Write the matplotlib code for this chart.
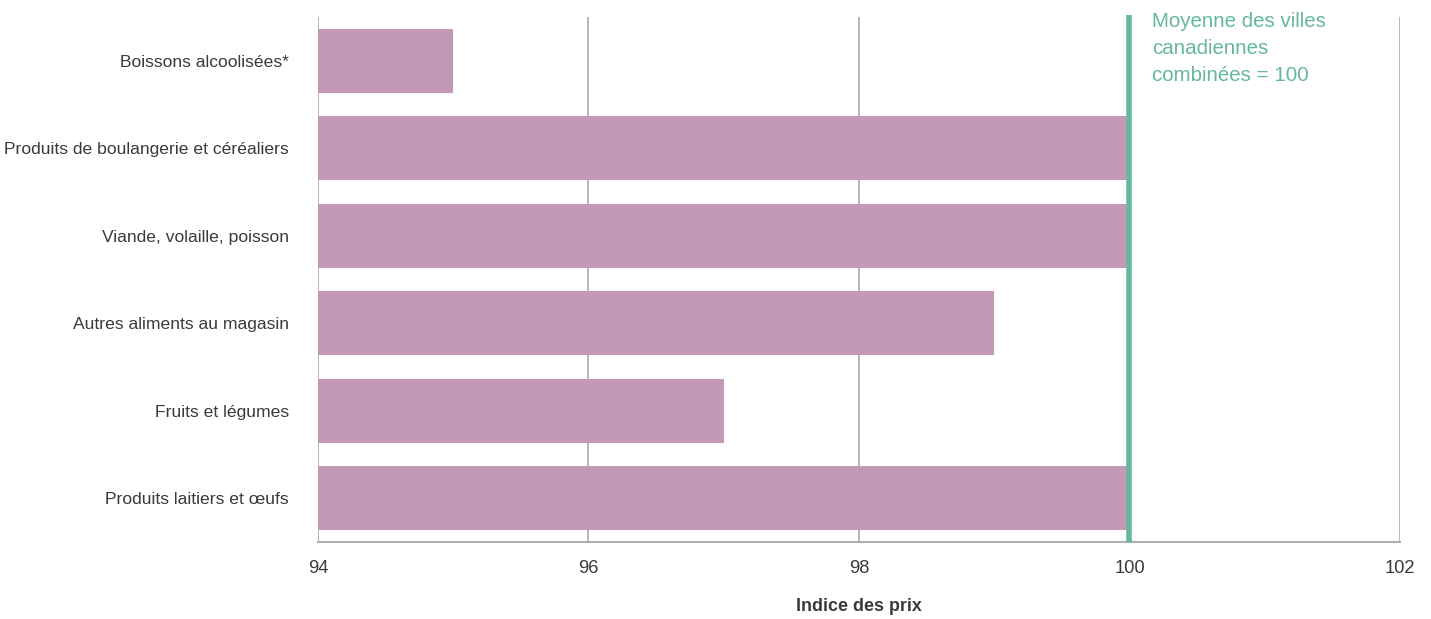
import matplotlib.pyplot as plt
import matplotlib.transforms as mtransforms
from matplotlib import font_manager

## Food price index by category, Canadian cities combined = 100
categories = ["Boissons alcoolisées*",
              "Produits de boulangerie et céréaliers",
              "Viande, volaille, poisson",
              "Autres aliments au magasin",
              "Fruits et légumes",
              "Produits laitiers et œufs"]
index_values = [95.0, 100.0, 100.0, 99.0, 97.0, 100.0]
x_ticks = [94, 96, 98, 100, 102]
reference_value = 100
reference_label = "Moyenne des villes\ncanadiennes\ncombinées = 100"

## Pick a narrow font if there is one
names = {f.name for f in font_manager.fontManager.ttflist}
narrow = "Liberation Sans Narrow" in names
family = "Liberation Sans Narrow" if narrow else "Liberation Sans"
plt.rcParams['font.family'] = [family, 'DejaVu Sans']
size = 15 if narrow else 12.6

bar_colour = "#c498b7"
line_colour = "#66b89c"
text_colour = "#3a3a3a"
grid_colour = "#b0b0b0"

fig = plt.figure(figsize=(14.31, 6.19), dpi=100)
ax = fig.add_axes([0.2222, 0.1244, 0.7561, 0.8481])

y_pos = list(range(len(categories)))
ax.barh(y_pos, [v - x_ticks[0] for v in index_values], left=x_ticks[0],
        height=0.73, color=bar_colour, zorder=2)

ax.set_xlim(x_ticks[0], x_ticks[-1])
ax.set_ylim(len(categories) - 0.5, -0.5)
ax.set_yticks(y_pos)
ax.set_yticklabels(categories, fontsize=size, color=text_colour)
ax.set_xticks(x_ticks)
ax.set_xticklabels([str(t) for t in x_ticks], fontsize=size * 1.05,
                   color=text_colour)
ax.tick_params(axis='both', length=0)
ax.tick_params(axis='y', pad=21)
ax.tick_params(axis='x', pad=13)

## Vertical grid lines stand in for the left / right frame
ax.grid(axis='x', color=grid_colour, linewidth=1.3, zorder=0)
for side in ['top', 'right', 'left']:
    ax.spines[side].set_visible(False)
ax.spines['bottom'].set_color(grid_colour)
ax.spines['bottom'].set_linewidth(1.5)
ax.set_axisbelow(True)

## Reference line at 100
ax.axvline(reference_value, ymin=0, ymax=1.003, color=line_colour,
           linewidth=4, zorder=3, clip_on=False, solid_capstyle='butt')
trans = mtransforms.blended_transform_factory(ax.transData, ax.transAxes)
ax.text(reference_value + 0.17, 1.01, reference_label, transform=trans,
        ha='left', va='top', fontsize=size * 1.17, color=line_colour,
        linespacing=1.55)

ax.set_xlabel("Indice des prix", fontsize=size * 1.02, fontweight='bold',
              color=text_colour, labelpad=15)

fig.savefig("out.png", dpi=100)
